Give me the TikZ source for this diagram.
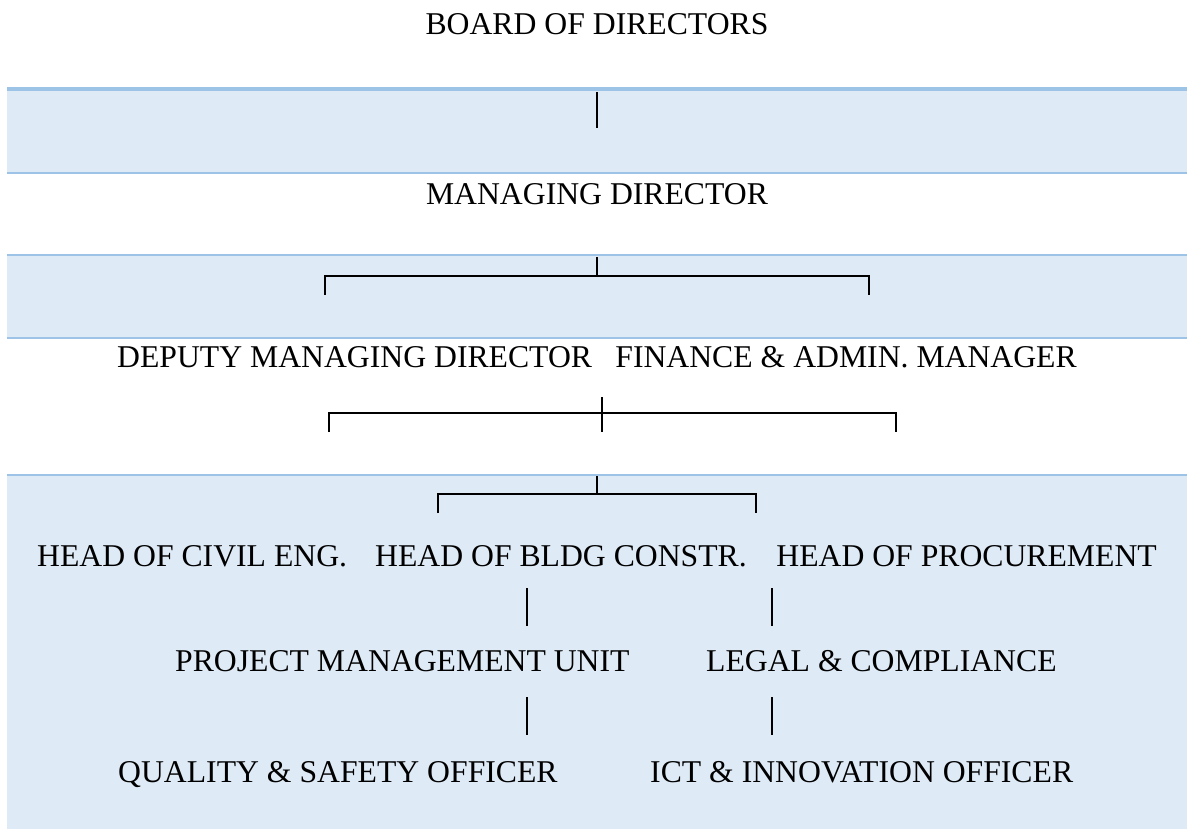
\documentclass[tikz,border=0pt]{standalone}
\usepackage{fontspec}
\setmainfont{Liberation Serif}
\definecolor{bandfill}{HTML}{DEEAF6}
\definecolor{bandline}{HTML}{9DC3E6}
\tikzset{
  post/.style={inner sep=0pt, font=\fontsize{31.7}{38}\selectfont},
  link/.style={line width=2.8pt},
  rule/.style={bandline, line width=1.3pt}
}
\begin{document}
\begin{tikzpicture}[x=1pt, y=-1pt]
      \useasboundingbox (0,0) rectangle (1187,829);
      \fill[bandfill] (7,87) rectangle (1187,173);
      \fill[bandfill] (7,255) rectangle (1187,338);
      \fill[bandfill] (7,475) rectangle (1187,829);
      \draw[rule, line width=4pt] (7,89) -- (1187,89);
      \draw[rule] (7,173) -- (1187,173);
      \draw[rule] (7,255) -- (1187,255);
      \draw[rule] (7,338) -- (1187,338);
      \draw[rule] (7,475) -- (1187,475);
      \path[post]
        (597,35) node[anchor=base] (board){BOARD OF DIRECTORS}
        (597,205) node[anchor=base] (md){MANAGING DIRECTOR}
        (117,367) node[anchor=base west] (dmd){DEPUTY MANAGING DIRECTOR}
        (1077,367) node[anchor=base east] (fam){FINANCE \& ADMIN. MANAGER}
        (37,566) node[anchor=base west] (civil){HEAD OF CIVIL ENG.}
        (375,566) node[anchor=base west] (bldg){HEAD OF BLDG CONSTR.}
        (1157,566) node[anchor=base east] (proc){HEAD OF PROCUREMENT}
        (175,671) node[anchor=base west] (pmu){PROJECT MANAGEMENT UNIT}
        (706,671) node[anchor=base west] (legal){LEGAL \& COMPLIANCE}
        (118,782) node[anchor=base west] (qso){QUALITY \& SAFETY OFFICER}
        (650,782) node[anchor=base west] (ict){ICT \& INNOVATION OFFICER};
      \begin{scope}[link]
        \draw (597,92) -- (597,128);
        \draw (597,257) -- (597,276);
        \draw (325,295) -- (325,276) -- (869,276) -- (869,295);
        \draw (602,397) -- (602,432);
        \draw (329,432) -- (329,413) -- (896,413) -- (896,432);
        \draw (597,476) -- (597,494);
        \draw (438,513) -- (438,494) -- (756,494) -- (756,513);
        \draw (527,588) -- (527,626);
        \draw (772,588) -- (772,626);
        \draw (527,697) -- (527,735);
        \draw (772,697) -- (772,735);
      \end{scope}
    \end{tikzpicture}
\end{document}
